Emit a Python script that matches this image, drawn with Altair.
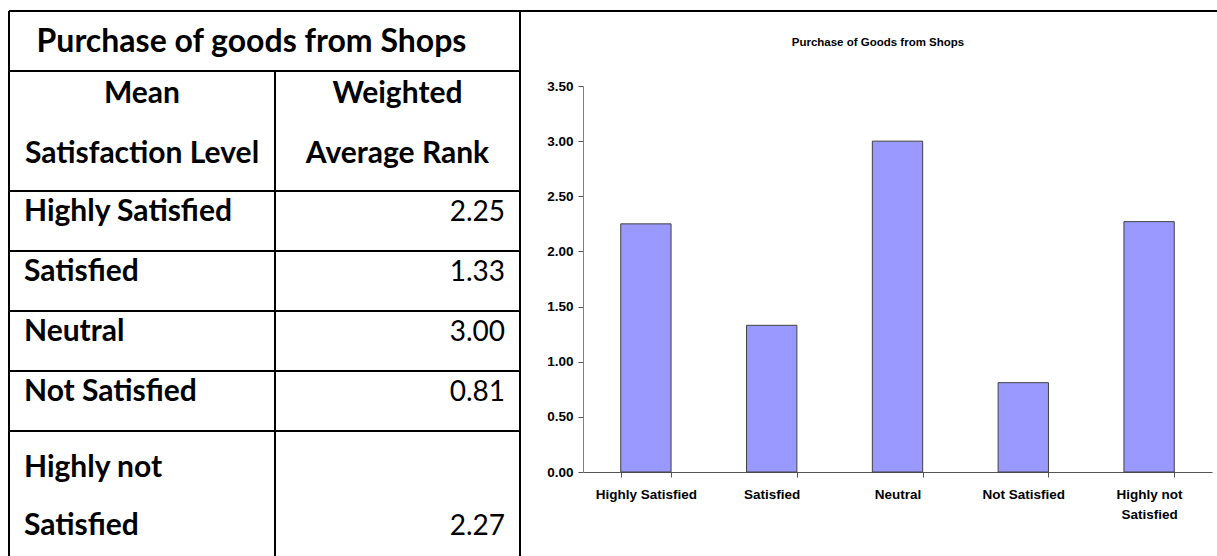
import altair as alt
import pandas as pd

# ---------------- data ----------------
table_title = "Purchase of goods from Shops"
header_col1 = ["Mean", "Satisfaction Level"]
header_col2 = ["Weighted", "Average Rank"]
levels = ["Highly Satisfied", "Satisfied", "Neutral", "Not Satisfied", "Highly not Satisfied"]
level_lines = [["Highly Satisfied"], ["Satisfied"], ["Neutral"], ["Not Satisfied"], ["Highly not", "Satisfied"]]
ranks = [2.25, 1.33, 3.00, 0.81, 2.27]
chart_title = "Purchase of Goods from Shops"
y_ticks = [0.0, 0.5, 1.0, 1.5, 2.0, 2.5, 3.0, 3.5]

# ---------------- layout ----------------
W, H = 1217, 556
TBL_L, TBL_C, TBL_R, TBL_TOP = 9, 275, 520, 11
row_heights = [60, 120, 60, 60, 60, 60, 140]
CELL_PAD = 15
row_tops = [TBL_TOP]
for h in row_heights[:-1]:
    row_tops.append(row_tops[-1] + h)

PLOT_L, PLOT_R, PLOT_T, PLOT_B = 583, 1212, 86, 472

TABLE_FONT = "Lato"
CHART_FONT = "Liberation Sans, Arial"

# table border lines
lines = []
for i, yv in enumerate(row_tops):
    lines.append({"x": TBL_L, "x2": W if i == 0 else TBL_R, "y": yv, "y2": yv})
lines.append({"x": TBL_L, "x2": TBL_L, "y": TBL_TOP, "y2": H})
lines.append({"x": TBL_C, "x2": TBL_C, "y": row_tops[1], "y2": H})
lines.append({"x": TBL_R, "x2": TBL_R, "y": TBL_TOP, "y2": H})
lines_df = pd.DataFrame(lines)

# table texts
title_items = [{"t": table_title, "x": (TBL_L + TBL_R) / 2 - 13, "y": row_tops[0] + 41}]
center_items = []
for k, (a, b) in enumerate(zip(header_col1, header_col2)):
    center_items.append({"t": a, "x": (TBL_L + TBL_C) / 2, "y": row_tops[1] + 32 + 60 * k})
    center_items.append({"t": b, "x": (TBL_C + TBL_R) / 2, "y": row_tops[1] + 32 + 60 * k})
left_items, right_items = [], []
for i, (ls, v) in enumerate(zip(level_lines, ranks)):
    top = row_tops[2 + i]
    first = 30 if len(ls) == 1 else 46
    for k, s in enumerate(ls):
        left_items.append({"t": s, "x": TBL_L + CELL_PAD, "y": top + first + 58 * k})
    right_items.append({"t": f"{v:.2f}", "x": TBL_R - CELL_PAD, "y": top + first + 58 * (len(ls) - 1)})

def xq(f):
    return alt.X(f, type="quantitative", scale=None, axis=None)

def yq(f):
    return alt.Y(f, type="quantitative", scale=None, axis=None)

rules = alt.Chart(lines_df).mark_rule(color="black", strokeWidth=2).encode(
    x=xq("x"), x2="x2:Q", y=yq("y"), y2="y2:Q"
)

def text_layer(items, align, weight, size):
    return alt.Chart(pd.DataFrame(items)).mark_text(
        align=align, baseline="alphabetic", font=TABLE_FONT, fontSize=size,
        fontWeight=weight, color="black"
    ).encode(x=xq("x"), y=yq("y"), text="t:N")

t_title = text_layer(title_items, "center", "bold", 32)
t_center = text_layer(center_items, "center", "bold", 30)
t_left = text_layer(left_items, "left", "bold", 30)
t_right = text_layer(right_items, "right", "normal", 28)

bar_df = pd.DataFrame({"level": levels, "rank": ranks})
bars = alt.Chart(bar_df).mark_bar(color="#9999FF", stroke="#404040", strokeWidth=1).encode(
    x=alt.X(
        "level:N", sort=levels,
        scale=alt.Scale(range=[PLOT_L, PLOT_R], paddingInner=0.6, paddingOuter=0.3),
        axis=alt.Axis(
            orient="bottom", offset=PLOT_B - H, title=None, labelAngle=0,
            tickBand="extent", tickSize=5, tickColor="#555555", domainColor="#555555",
            labelFont=CHART_FONT, labelFontSize=13.5, labelFontWeight="bold", labelColor="black",
            labelPadding=10, labelLineHeight=20,
            labelExpr="datum.label == 'Highly not Satisfied' ? ['Highly not', 'Satisfied'] : datum.label",
        ),
    ),
    y=alt.Y(
        "rank:Q",
        scale=alt.Scale(domain=[0, 3.5], range=[PLOT_B, PLOT_T], nice=False),
        axis=alt.Axis(
            orient="left", offset=-PLOT_L, title=None, values=y_ticks, format=".2f",
            grid=False, tickSize=5, tickColor="#555555", domainColor="#808080",
            labelFont=CHART_FONT, labelFontSize=13.5, labelFontWeight="bold", labelColor="black",
            labelPadding=5,
        ),
    ),
)

title_layer = alt.Chart(pd.DataFrame({"t": [chart_title]})).mark_text(
    align="center", baseline="alphabetic", font=CHART_FONT, fontSize=11.5,
    fontWeight="bold", color="black"
).encode(x=alt.value(878), y=alt.value(46), text="t:N")

chart = alt.layer(rules, t_title, t_center, t_left, t_right, bars, title_layer).resolve_scale(
    x="independent", y="independent"
).properties(
    width=W, height=H, padding=0,
    autosize=alt.AutoSizeParams(type="none"),
    background="white",
).configure_view(stroke=None)

chart.save("out.html", embed_options={"renderer": "svg", "actions": False})
